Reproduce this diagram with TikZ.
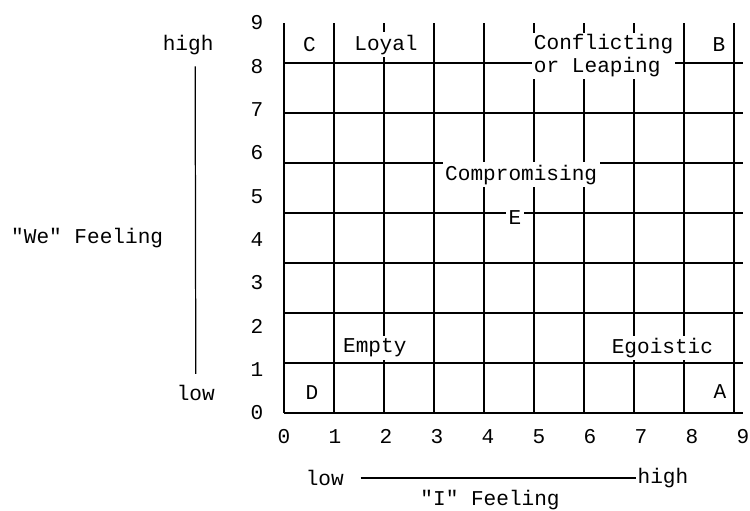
\documentclass[tikz,border=0pt]{standalone}
\usepackage{fontspec}
\setmainfont{Liberation Mono}
\usepackage{tikz}

\begin{document}
\begin{tikzpicture}[x=1.02cm, y=0.8667cm, every node/.style={font=\fontsize{12}{13}\selectfont},
	cell/.style={fill=white, inner sep=1.5pt}]
	\useasboundingbox (-5.569,-2.239) rectangle (9.137,9.531);
	\draw[line width=0.9pt] (0,0) grid (9,9);
	\foreach \i in {0,...,9} {
		\node (xl\i) at (\i,-0.55) {\i};
		\node (yl\i) at (-0.53,\i) {\i};
	}
	\node[cell] (cellC) at (0.5,8.5) {C};
	\node[cell] (loyal) at (2,8.5) {Loyal};
	\node[cell, align=left, anchor=west, inner sep=1pt] (conflict) at (4.86,8.24) {Conflicting\\or Leaping};
	\node[cell] (cellB) at (8.53,8.5) {B};
	\node[cell] (compro) at (4.65,5.5) {Compromising};
	\node[cell] (cellE) at (4.53,4.5) {E};
	\node[cell] (empty) at (1.78,1.5) {Empty};
	\node[cell] (ego) at (7.42,1.5) {Egoistic};
	\node[cell] (cellD) at (0.55,0.47) {D};
	\node[cell] (cellA) at (8.55,0.5) {A};
	\node (lowI) at (0.8,-1.5) {low};
	\node[inner sep=1pt] (highI) at (7.43,-1.5) {high};
	\draw[line width=0.7pt] ([xshift=6pt]lowI.east) -- (highI.west);
	\node (feelI) at (4.04,-2.01) {\textquotedbl I\textquotedbl{} Feeling};
	\node (highW) at (-1.88,8.49) {high};
	\node (lowW) at (-1.73,0.46) {low};
	\draw[line width=0.7pt] ([xshift=4pt, yshift=-3pt]highW.south) -- ([yshift=3pt]lowW.north);
	\node (feelW) at (-3.86,4.04) {\textquotedbl We\textquotedbl{} Feeling};
\end{tikzpicture}
\end{document}
